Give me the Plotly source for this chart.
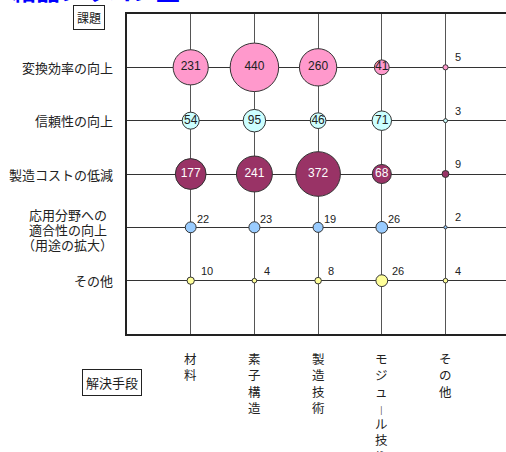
import math
import plotly.graph_objects as go

# ---- data ----
solutions = ["材料", "素子構造", "製造技術", "モジュール技術", "その他"]
issues = ["変換効率の向上", "信頼性の向上", "製造コストの低減",
          "応用分野への<br>適合性の向上<br>（用途の拡大）", "その他"]
efficiency = [231, 440, 260, 41, 5]
reliability = [54, 95, 46, 71, 3]
cost = [177, 241, 372, 68, 9]
application = [22, 23, 19, 26, 2]
other = [10, 4, 8, 26, 4]
series = [efficiency, reliability, cost, application, other]
title_text = "結晶シリコン型"
issue_axis_title = "課題"
solution_axis_title = "解決手段"

# ---- styles ----
fills = ["#FF99CC", "#CCFFFF", "#993366", "#99CCFF", "#FFFF99"]
inner_text = ["#222222", "#222222", "#FFFFFF", "#222222", "#222222"]
W, H = 506, 452
L, R, T, B = 127, 0, 14, 118
PW, PH = W - L - R, H - T - B
COL_PX = 63.7
MAX_D = 48.5
MAX_V = max(max(s) for s in series)
INSIDE_MIN = 30
NUM_FONT = "Liberation Sans, Arial, sans-serif"
JP_FONT = "Noto Sans CJK JP, sans-serif"


def px_x(px):
    return (px - L) / PW


def px_y(py):
    return (H - B - py) / PH


fig = go.Figure()
annotations = []

xs = list(range(1, len(solutions) + 1))
for r, vals in enumerate(series):
    row = r + 1
    sizes = [MAX_D * math.sqrt(v / MAX_V) for v in vals]
    texts = [str(v) if v > INSIDE_MIN else "" for v in vals]
    fig.add_trace(go.Scatter(
        x=xs, y=[row] * len(vals), mode="markers+text",
        marker=dict(size=sizes, sizemode="diameter", color=fills[r],
                    line=dict(color="#333333", width=1), opacity=1),
        text=texts, textposition="middle center",
        textfont=dict(family=NUM_FONT, size=12, color=inner_text[r]),
        hoverinfo="skip", showlegend=False, cliponaxis=False,
    ))
    for c, v in enumerate(vals):
        if v <= INSIDE_MIN:
            if c == len(vals) - 1:
                xs_, ys_ = 7, 10
            elif r == 3:
                xs_, ys_ = 4, 8
            else:
                xs_, ys_ = 8, 10
            annotations.append(dict(
                x=c + 1, y=row, xref="x", yref="y", text=str(v),
                showarrow=False, xanchor="left", yanchor="middle",
                xshift=xs_, yshift=ys_,
                font=dict(family=NUM_FONT, size=11, color="#222222")))

# issue (row) labels
for r, lab in enumerate(issues):
    row = r + 1
    lines = lab.split("<br>")
    if len(lines) == 1:
        annotations.append(dict(
            x=0, y=row, xref="paper", yref="y", text=lab, showarrow=False,
            xanchor="right", yanchor="middle", xshift=-12,
            font=dict(family=JP_FONT, size=13, color="#222222")))
    else:
        n = len(lines)
        for i, ln in enumerate(lines):
            annotations.append(dict(
                x=px_x(67.5), y=row, xref="paper", yref="y", text=ln,
                showarrow=False, xanchor="center", yanchor="middle",
                yshift=-((i - (n - 1) / 2) * 15) - 2,
                font=dict(family=JP_FONT, size=13, color="#222222")))

# solution (column) labels, vertical text
for c, lab in enumerate(solutions):
    chars = ['<span style="font-size:8px">|</span>' if ch == "ー" else ch
             for ch in lab]
    annotations.append(dict(
        x=c + 1, y=px_y(347), xref="x", yref="paper",
        text="<br>".join(chars), showarrow=False,
        xanchor="center", yanchor="top", align="center",
        font=dict(family=JP_FONT, size=12.5, color="#222222")))

# boxed axis titles
annotations.append(dict(
    x=px_x(89), y=px_y(17.5), xref="paper", yref="paper",
    text=issue_axis_title, showarrow=False, xanchor="center", yanchor="middle",
    bordercolor="#222222", borderwidth=1, borderpad=3, bgcolor="white",
    font=dict(family=JP_FONT, size=12, color="#222222")))
annotations.append(dict(
    x=px_x(112), y=px_y(382.5), xref="paper", yref="paper",
    text=solution_axis_title, showarrow=False, xanchor="center", yanchor="middle",
    bordercolor="#222222", borderwidth=1, borderpad=3, bgcolor="white",
    font=dict(family=JP_FONT, size=13, color="#222222")))

# title (cut off at the top as in the reference)
annotations.append(dict(
    x=px_x(10), y=px_y(-11), xref="paper", yref="paper",
    text="<b>" + title_text + "</b>", showarrow=False,
    xanchor="left", yanchor="middle",
    font=dict(family=JP_FONT, size=24, color="#0000FF")))

fig.update_layout(
    width=W, height=H,
    margin=dict(l=L, r=R, t=T, b=B, pad=0),
    paper_bgcolor="white", plot_bgcolor="white",
    annotations=annotations,
    xaxis=dict(range=[0, PW / COL_PX], tickvals=xs, showticklabels=False,
               ticks="", showgrid=True, gridcolor="#555555", gridwidth=1,
               zeroline=False, showline=True, linecolor="#222222",
               linewidth=2, mirror=True, fixedrange=True),
    yaxis=dict(range=[len(issues) + 1, 0], tickvals=list(range(1, len(issues) + 1)),
               showticklabels=False, ticks="", showgrid=True,
               gridcolor="#333333", gridwidth=1, zeroline=False,
               showline=True, linecolor="#222222", linewidth=2,
               mirror=False, fixedrange=True),
)

fig.write_html("out.html")
